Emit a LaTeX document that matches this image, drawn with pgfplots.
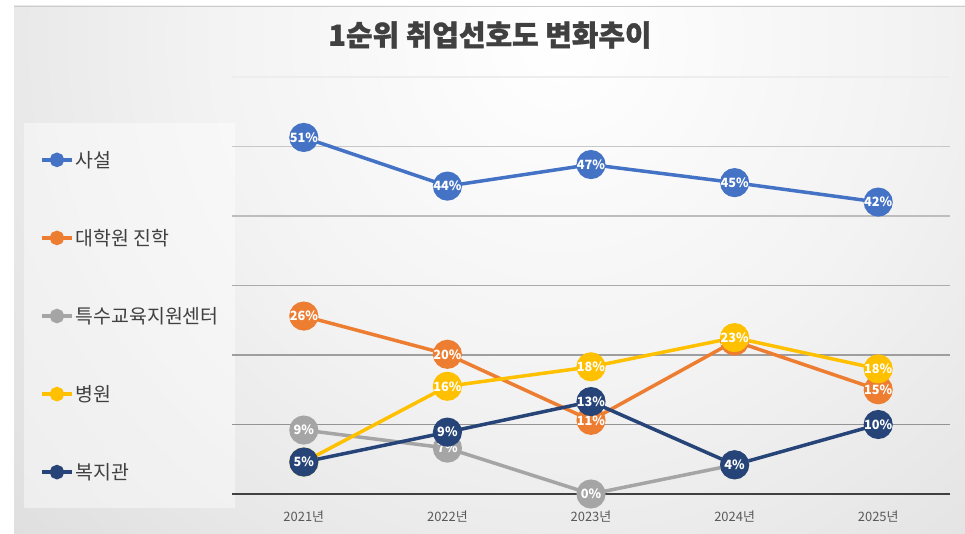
\documentclass[border=0pt]{standalone}
\usepackage{pgfplots}
\pgfplotsset{compat=1.18}
\usepackage{fontspec}
\setmainfont{Noto Sans CJK KR}
\definecolor{c1}{HTML}{4472C4}
\definecolor{c2}{HTML}{ED7D31}
\definecolor{c3}{HTML}{A5A5A5}
\definecolor{c4}{HTML}{FFC000}
\definecolor{c5}{HTML}{264478}
\definecolor{txt}{HTML}{404040}
\definecolor{tick}{HTML}{595959}
\pgfdeclareradialshading{bgshade}{\pgfpoint{0bp}{0bp}}{color(0bp)=(white); color(12bp)=(white!95!black); color(27bp)=(white!86!black); color(37bp)=(white!82!black); color(50bp)=(white!74!black)}
\begin{document}
\begin{tikzpicture}[x=1bp,y=1bp]
\useasboundingbox (0,0) rectangle (965,534);
\fill[white] (0,0) rectangle (965,534);
\begin{scope}
\clip (14,0) rectangle (965,528);
\shade[shading=bgshade] (560,494) circle (750);
\end{scope}
\draw[white!80!black, line width=0.8bp] (14,528) -- (965,528);
\fill[white, fill opacity=0.45] (24,26) rectangle (235,411);
\node[font=\fontsize{29}{32}\selectfont\bfseries\addfontfeature{FakeBold=1.2}, text=txt] at (490,499) {1순위 취업선호도 변화추이};
\begin{axis}[
  at={(232bp,40bp)}, anchor=south west,
  scale only axis, width=718bp, height=417bp,
  xmin=-0.5, xmax=4.5, ymin=0, ymax=60,
  clip=false,
  axis x line=bottom, axis y line=none,
  x axis line style={-, draw=txt, line width=1.8bp},
  xtick={0,1,2,3,4},
  xticklabels={2021년,2022년,2023년,2024년,2025년},
  xtick style={draw=none},
  ytick=\empty,
  xticklabel style={font=\fontsize{13}{15}\selectfont, text=tick, yshift=-11bp},
  /pgf/number format/assume math mode=true,
  every axis plot/.append style={line width=3.5bp, mark=*, mark size=12.8bp, mark options={solid}},
  point meta=explicit,
  nodes near coords={\pgfmathprintnumber{\pgfplotspointmeta}\%},
  every node near coord/.append style={anchor=center, text=white, font=\fontsize{12.8}{13}\selectfont\bfseries, inner sep=0pt},
  legend cell align=left,
  legend image code/.code={\draw[#1, mark=none, line width=3.5bp] (0bp,0bp) -- (30bp,0bp); \fill[#1] (15bp,0bp) circle (5.5bp);},
  legend style={at={(-0.2674,0.8276)}, anchor=north west, draw=none, fill=none, inner sep=0pt, row sep=56.5bp, font=\fontsize{19.5}{21}\selectfont, text=txt},
]
\draw[white!93!black, line width=1.2bp] (axis cs:-0.5,60) -- (axis cs:4.5,60);
\draw[white!78!black, line width=1.2bp] (axis cs:-0.5,50) -- (axis cs:4.5,50);
\draw[white!74!black, line width=1.2bp] (axis cs:-0.5,40) -- (axis cs:4.5,40);
\draw[white!67!black, line width=1.2bp] (axis cs:-0.5,30) -- (axis cs:4.5,30);
\draw[white!62!black, line width=1.2bp] (axis cs:-0.5,20) -- (axis cs:4.5,20);
\draw[white!58!black, line width=1.2bp] (axis cs:-0.5,10) -- (axis cs:4.5,10);
\addplot[c1] coordinates {(0,51.3) [51] (1,44.3) [44] (2,47.4) [47] (3,44.8) [45] (4,42.0) [42]};
\addlegendentry{사설}
\addplot[c2] coordinates {(0,25.6) [26] (1,20.1) [20] (2,10.6) [11] (3,22.0) [22] (4,15.0) [15]};
\addlegendentry{대학원 진학}
\addplot[c3] coordinates {(0,9.2) [9] (1,6.6) [7] (2,0) [0] (3,4.2) [4]};
\addlegendentry{특수교육지원센터}
\addplot[c4] coordinates {(0,4.6) [5] (1,15.5) [16] (2,18.3) [18] (3,22.5) [23] (4,18.0) [18]};
\addlegendentry{병원}
\addplot[c5] coordinates {(0,4.6) [5] (1,8.9) [9] (2,13.3) [13] (3,4.2) [4] (4,10.0) [10]};
\addlegendentry{복지관}
\end{axis}
\end{tikzpicture}
\end{document}
